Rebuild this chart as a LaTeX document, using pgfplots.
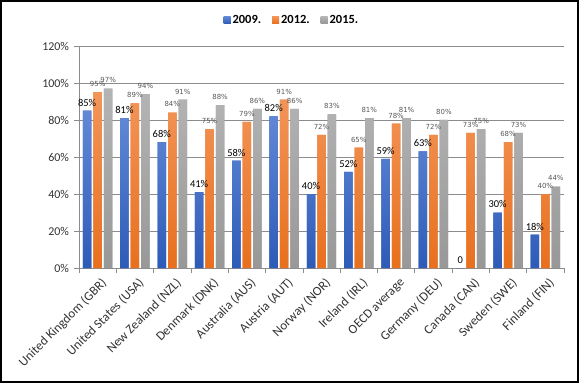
\documentclass[border=0pt]{standalone}
\usepackage{pgfplots}
\pgfplotsset{compat=1.18}
\usepackage{fontspec}
\setmainfont{Carlito}
\newfontfamily\labfont{DejaVu Sans}
\definecolor{btop}{HTML}{6189D6}
\definecolor{bbot}{HTML}{2E5BB8}
\definecolor{otop}{HTML}{F3955A}
\definecolor{obot}{HTML}{E8701E}
\definecolor{gtop}{HTML}{B4B4B4}
\definecolor{gbot}{HTML}{989898}
\definecolor{lab}{HTML}{595959}
\begin{document}
\begin{tikzpicture}
\begin{axis}[name=ax, scale only axis, width=485bp, height=222bp,
  ybar, bar width=8.5bp,
  xmin=-0.5, xmax=12.5, ymin=0, ymax=120,
  ytick={0,20,...,120},
  yticklabel={\pgfmathprintnumber{\tick}\%},
  /pgf/number format/assume math mode=true,
  ymajorgrids, grid style={black!45, line width=0.6bp},
  axis x line*=bottom, axis y line*=left,
  axis line style={black!45, line width=0.6bp},
  xtick={0,...,12},
  xticklabels={United Kingdom (GBR),United States (USA),New Zealand (NZL),Denmark (DNK),Australia (AUS),Austria (AUT),Norway (NOR),Ireland (IRL),OECD average,Germany (DEU),Canada (CAN),Sweden (SWE),Finland (FIN)},
  major x tick style={draw=none},
  minor xtick={-0.5,0.5,...,12.5},
  minor x tick style={black!45, line width=0.6bp},
  minor tick length=4.5bp,
  major tick length=4.5bp,
  tick align=outside,
  y tick style={black!45, line width=0.6bp},
  xticklabel style={rotate=45, anchor=north east, font=\fontsize{13}{15}\selectfont, text=black!80, inner sep=1bp, yshift=-4bp},
  yticklabel style={font=\fontsize{12}{14}\selectfont, text=black!80, xshift=-2bp},
  legend columns=3,
  legend style={draw=none, fill=none, at={(0.439,1.117)}, anchor=center,
    font=\bfseries\fontsize{12.5}{14}\selectfont,
    /tikz/every even column/.append style={column sep=9bp}},
  legend image code/.code={\fill[#1] (0bp,-3.5bp) rectangle (7bp,3.5bp);},
]
\addplot+[draw=none, fill=bbot, top color=btop, bottom color=bbot,
  nodes near coords, point meta=explicit symbolic,
  every node near coord/.append style={font=\fontsize{10.5}{12}\selectfont, text=black, yshift=1bp}]
  coordinates {(0,85)[85\%] (1,81)[81\%] (2,68)[68\%] (3,41)[41\%] (4,58)[58\%] (5,82)[82\%] (6,40)[40\%] (7,52)[52\%] (8,59)[59\%] (9,63)[63\%] (10,0)[0] (11,30)[30\%] (12,18)[18\%]};
\addplot+[draw=none, fill=obot, top color=otop, bottom color=obot,
  nodes near coords, point meta=explicit symbolic,
  every node near coord/.append style={font=\labfont\fontsize{7}{8}\selectfont, text=lab, yshift=2bp}]
  coordinates {(0,95)[95\%] (1,89)[89\%] (2,84)[84\%] (3,75)[75\%] (4,79)[79\%] (5,91)[91\%] (6,72)[72\%] (7,65)[65\%] (8,78)[78\%] (9,72)[72\%] (10,73)[73\%] (11,68)[68\%] (12,40)[40\%]};
\addplot+[draw=none, fill=gbot, top color=gtop, bottom color=gbot,
  nodes near coords, point meta=explicit symbolic,
  every node near coord/.append style={font=\labfont\fontsize{7}{8}\selectfont, text=lab, yshift=2bp}]
  coordinates {(0,97)[97\%] (1,94)[94\%] (2,91)[91\%] (3,88)[88\%] (4,86)[86\%] (5,86)[86\%] (6,83)[83\%] (7,81)[81\%] (8,81)[81\%] (9,80)[80\%] (10,75)[75\%] (11,73)[73\%] (12,44)[44\%]};
\legend{2009.,2012.,2015.}
\end{axis}
\pgfresetboundingbox
\path[use as bounding box] ([xshift=-79bp,yshift=-115bp]ax.south west) rectangle ([xshift=15bp,yshift=46bp]ax.north east);
\draw[black, line width=1.2bp] ([xshift=-78bp,yshift=-114bp]ax.south west) rectangle ([xshift=14bp,yshift=45bp]ax.north east);
\end{tikzpicture}
\end{document}
